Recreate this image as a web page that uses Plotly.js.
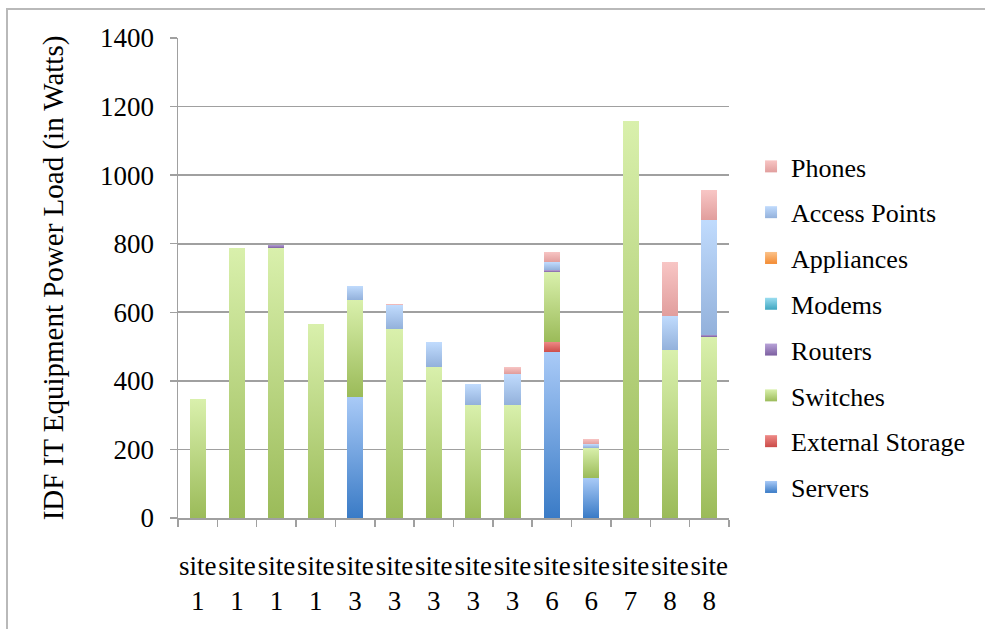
<!DOCTYPE html>
<html><head><meta charset="utf-8">
<script src="https://cdn.plot.ly/plotly-3.0.1.min.js"></script>
<style>
html,body{margin:0;padding:0;background:#fff;overflow:hidden;width:985px;height:629px}
#chart{width:985px;height:629px;position:absolute;left:0;top:0}
#frame{position:absolute;left:6px;top:8px;width:1200px;height:900px;border-top:2px solid #b9b9b9;border-left:2px solid #b9b9b9;pointer-events:none}
</style></head><body>
<div id="chart"></div><div id="frame"></div>
<script>
// ---- data ----
const sites = ['site 1','site 1','site 1','site 1','site 3','site 3','site 3','site 3','site 3','site 6','site 6','site 7','site 8','site 8'];
const servers      = [0,0,0,0,354,0,0,0,0,483,117,0,0,0];
const extStorage   = [0,0,0,0,0,0,0,0,0,31,0,0,0,0];
const switches     = [346,787,787,566,282,551,441,330,330,203,88,1159,489,528];
const routers      = [0,0,10,0,0,0,0,0,0,6,0,0,0,7];
const modems       = [0,0,0,0,0,0,0,0,0,0,0,0,0,0];
const appliances   = [0,0,0,0,0,0,0,0,0,0,0,0,0,0];
const accessPoints = [0,0,0,0,41,69,71,60,91,23,10,0,101,334];
const phones       = [0,0,0,0,0,4,0,0,20,31,16,0,158,87];
const yTicks = [0,200,400,600,800,1000,1200,1400];

const seriesNames = ['Servers','External Storage','Switches','Routers','Modems','Appliances','Access Points','Phones'];
const seriesVals  = [servers, extStorage, switches, routers, modems, appliances, accessPoints, phones];
const darkCols  = ['#3A7BC6','#CB4B48','#9BBB59','#7C5FA0','#3FA6C0','#F38B32','#93B1DB','#E19E9D'];
const lightCols = ['#A9CAF7','#EE8A87','#D9F0AC','#B8A3D8','#9ADDF0','#FBC28A','#C0DBFD','#F8C6C5'];
const midCols   = ['#6FA2DE','#DC6A67','#BAD682','#9A81BD','#6CC2D8','#F7A75E','#AAC6EC','#EDB2B1'];

const xs = sites.map((s, i) => i);
const tickText = sites.map(s => s.replace(' ', '<br>'));

const font = 'Liberation Serif, Times New Roman, serif';

const data = seriesNames.map((name, k) => ({
  type: 'bar',
  name: name,
  x: xs,
  y: seriesVals[k],
  marker: {color: midCols[k], line: {width: 0}},
  legendgroup: 'g' + k,
  legendrank: 100 - k,
  hoverinfo: 'name+y'
}));

const layout = {
  width: 985, height: 629,
  margin: {l: 178, r: 256, t: 38, b: 111, pad: 0},
  paper_bgcolor: '#fff', plot_bgcolor: '#fff',
  barmode: 'stack',
  bargap: 0.59,
  font: {family: font, size: 27, color: '#000'},
  showlegend: true,
  legend: {
    x: 1.04, xanchor: 'left', y: 0.398, yanchor: 'middle',
    font: {family: font, size: 26, color: '#000'},
    traceorder: 'grouped', tracegroupgap: 9,
    bgcolor: 'rgba(0,0,0,0)', borderwidth: 0
  },
  xaxis: {
    range: [-0.5, 13.5],
    tickmode: 'array', tickvals: xs, ticktext: tickText,
    tickangle: 0,
    ticks: '', showgrid: false, zeroline: false,
    showline: true, linecolor: '#a0a0a0', linewidth: 1.5,
    tickfont: {family: font, size: 27, color: '#000'},
    ticklabelstandoff: 23,
    minor: {tick0: -0.5, dtick: 1, ticks: 'outside', ticklen: 7, tickcolor: '#a0a0a0', tickwidth: 1.5, showgrid: false}
  },
  yaxis: {
    range: [0, 1400],
    tickmode: 'array', tickvals: yTicks,
    ticks: 'outside', ticklen: 7, tickcolor: '#a0a0a0', tickwidth: 1.5,
    showline: true, linecolor: '#a0a0a0', linewidth: 1.5,
    showgrid: true, gridcolor: '#a0a0a0', gridwidth: 1.6,
    zeroline: false,
    tickfont: {family: font, size: 27, color: '#000'},
    ticklabelstandoff: 10,
    title: {text: 'IDF IT Equipment Power Load (in Watts)', font: {family: font, size: 29, color: '#000'}, standoff: 28}
  }
};

function applyGradients(gd) {
  const svg = gd.querySelector('.main-svg');
  const NS = 'http://www.w3.org/2000/svg';
  let defs = svg.querySelector('defs');
  if (!defs) { defs = document.createElementNS(NS, 'defs'); svg.insertBefore(defs, svg.firstChild); }
  seriesNames.forEach((n, k) => {
    const g = document.createElementNS(NS, 'linearGradient');
    g.setAttribute('id', 'bargrad' + k);
    g.setAttribute('x1', '0'); g.setAttribute('y1', '1');
    g.setAttribute('x2', '0'); g.setAttribute('y2', '0');
    const s1 = document.createElementNS(NS, 'stop');
    s1.setAttribute('offset', '0'); s1.setAttribute('stop-color', darkCols[k]);
    const s2 = document.createElementNS(NS, 'stop');
    s2.setAttribute('offset', '1'); s2.setAttribute('stop-color', lightCols[k]);
    g.appendChild(s1); g.appendChild(s2);
    defs.appendChild(g);
  });
  const traces = gd.querySelectorAll('.barlayer .trace');
  traces.forEach((t, k) => {
    t.querySelectorAll('path').forEach(p => { p.style.fill = 'url(#bargrad' + k + ')'; });
  });
  gd.querySelectorAll('.legend .traces').forEach(el => {
    const d = el.__data__;
    let idx = null;
    try { idx = d[0].trace.index; } catch (e) {}
    if (idx === null || idx === undefined) return;
    el.querySelectorAll('.legendpoints path').forEach(p => { p.style.fill = 'url(#bargrad' + idx + ')'; });
  });
}

Plotly.newPlot('chart', data, layout, {displayModeBar: false, staticPlot: true}).then(applyGradients);
</script>
</body></html>
